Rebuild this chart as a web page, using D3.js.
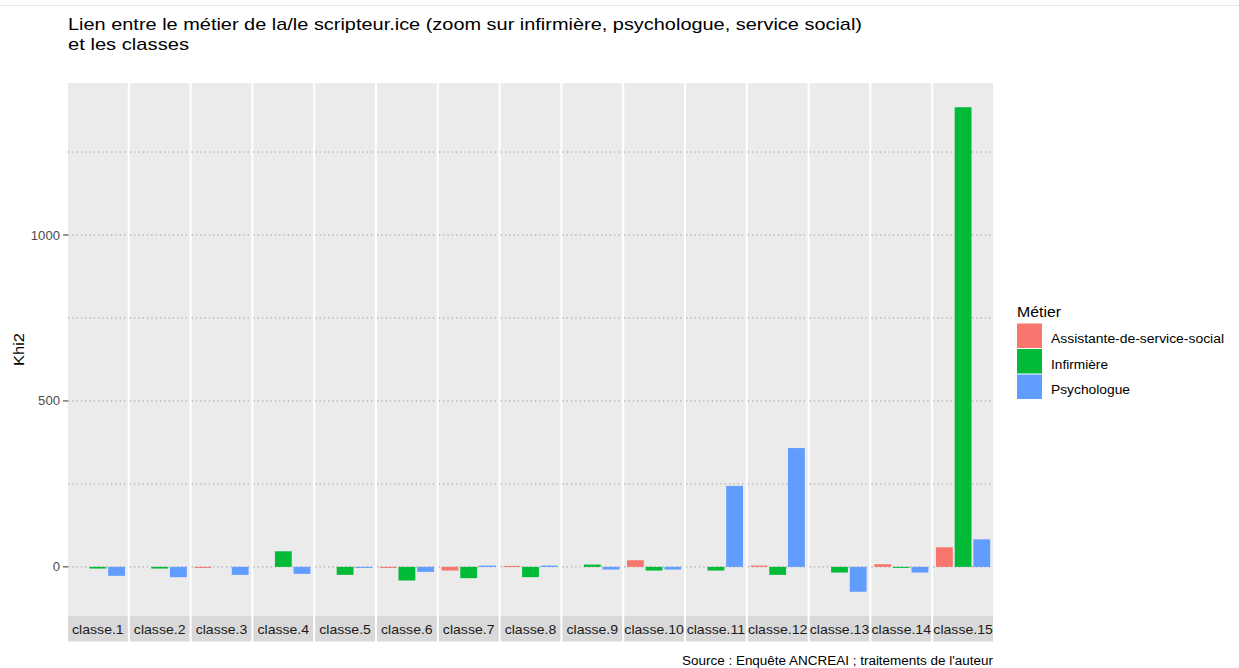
<!DOCTYPE html>
<html><head><meta charset="utf-8">
<script src="https://cdn.jsdelivr.net/npm/d3@7"></script>
<style>body{margin:0;background:#fff;}svg{display:block;font-family:"Liberation Sans",Arial,sans-serif;}</style>
</head><body><svg id="c" width="1239" height="668"></svg>
<script>
const classes = ["classe.1","classe.2","classe.3","classe.4","classe.5","classe.6","classe.7","classe.8","classe.9","classe.10","classe.11","classe.12","classe.13","classe.14","classe.15"];
const metiers = ["Assistante-de-service-social","Infirmière","Psychologue"];
const colors = ["#F8766D","#00BA38","#619CFF"];
const assistante = [0, 0, -1, 0, 0, -1, -11, 3, 0, 20, 0, 4, 0, 8, 59];
const infirmiere = [-5, -5, 0, 47, -24, -41, -34, -31, 7, -11, -11, -24, -17, -3, 1385];
const psychologue = [-27, -31, -24, -21, -2, -15, 4, 4, -8, -8, 244, 358, -75, -17, 83];
const gridValues = [0, 250, 500, 750, 1000, 1250];
const tickValues = [0, 500, 1000];
const title1 = "Lien entre le métier de la/le scripteur.ice (zoom sur infirmière, psychologue, service social)";
const title2 = "et les classes";
const yLabel = "Khi2";
const legendTitle = "Métier";
const caption = "Source : Enquête ANCREAI ; traitements de l'auteur";

const series = [assistante, infirmiere, psychologue];
const svg = d3.select("#c");
const L = 68, R = 993, T = 83, B = 616, gap = 2;

// widen text to match reference rendering
function widen(sel, f) {
  sel.each(function(){ const w = this.getComputedTextLength(); this.setAttribute("textLength", w*f); this.setAttribute("lengthAdjust","spacingAndGlyphs"); });
  return sel;
}

svg.append("line").attr("x1",0).attr("x2",1239).attr("y1",5.5).attr("y2",5.5).attr("stroke","#e6e6e6");

const all = series.flat();
const mn = Math.min(0, d3.min(all)), mx = Math.max(0, d3.max(all));
const r = mx - mn;
const y = d3.scaleLinear().domain([mn - 0.05*r, mx + 0.05*r]).range([B, T]);

const outer = d3.scaleBand().domain(classes).range([L, R + gap]).paddingInner(0).paddingOuter(0);
const fw = outer.bandwidth() - gap;

classes.forEach((c, i) => {
  const x0 = outer(c);
  const g = svg.append("g").attr("transform", `translate(${x0},0)`);
  g.append("rect").attr("x",0).attr("y",T).attr("width",fw).attr("height",B-T).attr("fill","#EBEBEB");
  gridValues.forEach(v => {
    g.append("line").attr("x1",0).attr("x2",fw).attr("y1",y(v)).attr("y2",y(v))
      .attr("stroke","#9a9a9a").attr("stroke-width",1).attr("stroke-dasharray","1.3,3");
  });
  const xs = d3.scaleLinear().domain([0.4, 3.6]).range([0, fw]);
  metiers.forEach((m, j) => {
    const v = series[j][i];
    if (v === 0) return;
    g.append("rect")
      .attr("x", xs(j+1-0.45)).attr("width", xs(j+1+0.45)-xs(j+1-0.45))
      .attr("y", y(Math.max(0,v))).attr("height", Math.max(1, Math.abs(y(v)-y(0))))
      .attr("fill", colors[j]);
  });
  g.append("rect").attr("x",0).attr("y",B).attr("width",fw).attr("height",25.5).attr("fill","#D9D9D9");
  widen(g.append("text").attr("x",fw/2).attr("y",B+17.5).attr("text-anchor","middle")
    .attr("font-size",12.8).attr("fill","#1A1A1A").text(c), 1.1);
});

// y axis
tickValues.forEach(v => {
  svg.append("line").attr("x1",63).attr("x2",L).attr("y1",y(v)).attr("y2",y(v)).attr("stroke","#333").attr("stroke-width",1);
  widen(svg.append("text").attr("x",60).attr("y",y(v)+4.5).attr("text-anchor","end").attr("font-size",12.5).attr("fill","#4D4D4D").text(v), 1.05);
});
widen(svg.append("text").attr("transform",`translate(24,${(T+B)/2}) rotate(-90)`).attr("text-anchor","middle")
  .attr("font-size",15).attr("fill","#000").text(yLabel), 1.1);

// title
widen(svg.append("text").attr("x",L).attr("y",30).attr("font-size",17).attr("fill","#000").text(title1), 1.0)
  .attr("textLength", 794);
svg.append("text").attr("x",L).attr("y",49.5).attr("font-size",17).attr("fill","#000").attr("textLength",121).attr("lengthAdjust","spacingAndGlyphs").text(title2);

// legend
svg.append("text").attr("x",1017).attr("y",317).attr("font-size",15).attr("fill","#000").attr("textLength",44).attr("lengthAdjust","spacingAndGlyphs").text(legendTitle);
const legW = [173, 57, 79];
metiers.forEach((m, j) => {
  const ky = 323.5 + j*25.5;
  svg.append("rect").attr("x",1017).attr("y",ky).attr("width",25).attr("height",24.5).attr("fill",colors[j]);
  svg.append("text").attr("x",1051).attr("y",ky+19.5).attr("font-size",12.5).attr("fill","#000")
    .attr("textLength",legW[j]).attr("lengthAdjust","spacingAndGlyphs").text(m);
});

// caption
svg.append("text").attr("x",R).attr("y",665).attr("text-anchor","end").attr("font-size",12.5).attr("fill","#000")
  .attr("textLength",311).attr("lengthAdjust","spacingAndGlyphs").text(caption);
</script></body></html>
